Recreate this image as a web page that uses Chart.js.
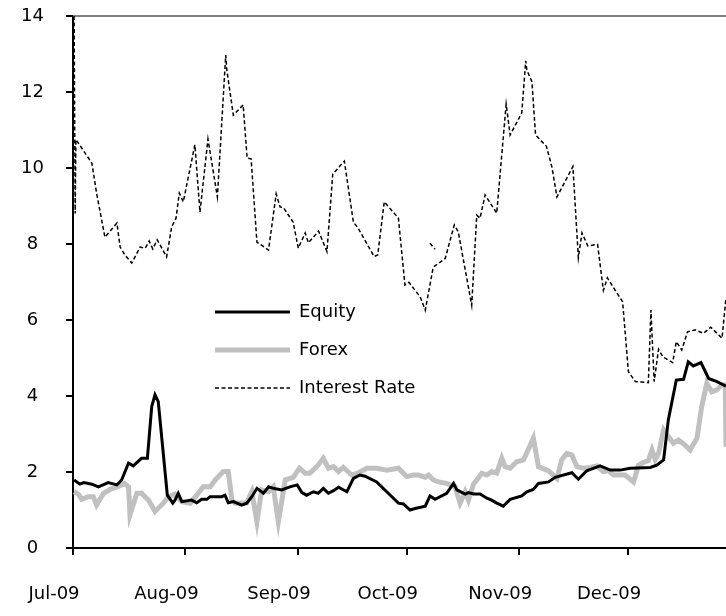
<!DOCTYPE html>
<html>
<head>
<meta charset="utf-8">
<script src="https://cdn.jsdelivr.net/npm/chart.js@4.4.0/dist/chart.umd.min.js"></script>
<style>
  html, body { margin: 0; padding: 0; background: #fff; }
</style>
</head>
<body>
<canvas id="canvas" width="726" height="616"></canvas>
<script>
// x values are days since 1 Jul 2009
var monthTicks = [0, 31, 62, 92, 123, 153];
var monthLabels = ['Jul-09', 'Aug-09', 'Sep-09', 'Oct-09', 'Nov-09', 'Dec-09'];
var seriesNames = ['Equity', 'Forex', 'Interest Rate'];

var equity = [[0.3,1.79],[1.9,1.68],[3.0,1.72],[5.2,1.68],[7.0,1.61],[9.7,1.72],[12.1,1.66],[13.4,1.79],[15.3,2.23],[16.6,2.16],
  [18.9,2.36],[20.5,2.36],[21.7,3.72],[22.6,4.03],[23.5,3.85],[26.0,1.39],[27.5,1.18],[28.1,1.26],[29.0,1.44],[30.0,1.22],
  [32.7,1.26],[34.1,1.19],[35.5,1.28],[36.9,1.28],[37.8,1.35],[41.0,1.35],[41.9,1.39],[42.8,1.19],[44.2,1.22],[46.5,1.13],
  [47.9,1.18],[49.3,1.35],[50.7,1.57],[52.5,1.44],[53.9,1.61],[55.2,1.57],[57.5,1.53],[59.8,1.61],[61.8,1.66],[63.1,1.46],
  [64.4,1.39],[66.3,1.48],[67.6,1.44],[69.0,1.57],[70.4,1.44],[71.8,1.51],[73.2,1.6],[75.5,1.48],[77.3,1.83],[79.1,1.92],
  [80.5,1.89],[83.7,1.74],[86.9,1.44],[89.7,1.18],[91.1,1.16],[92.9,1.0],[94.3,1.04],[97.1,1.1],[98.4,1.37],[99.8,1.28],
  [103.0,1.44],[104.9,1.7],[105.8,1.53],[108.1,1.42],[109.0,1.46],[110.4,1.42],[112.2,1.42],[114.1,1.31],[115.4,1.26],[116.8,1.18],
  [118.6,1.1],[120.5,1.28],[123.7,1.37],[125.1,1.48],[126.9,1.54],[128.3,1.7],[131.1,1.74],[132.9,1.86],[137.5,1.98],[139.3,1.81],
  [141.6,2.03],[145.3,2.16],[148.1,2.05],[150.8,2.05],[153.6,2.1],[159.1,2.12],[160.9,2.18],[162.8,2.32],[164.1,3.37],[166.3,4.42],
  [168.3,4.44],[169.6,4.9],[171.0,4.79],[173.1,4.88],[175.2,4.46],[177.5,4.38],[180.0,4.26]];

var forex = [[0.3,1.48],[1.5,1.42],[2.4,1.28],[4.2,1.35],[5.6,1.35],[6.5,1.13],[8.4,1.44],[10.2,1.54],[12.1,1.61],[14.3,1.7],
  [15.3,1.61],[15.7,0.87],[17.6,1.44],[18.9,1.44],[20.8,1.26],[22.6,0.96],[24.9,1.18],[26.3,1.35],[28.1,1.42],[30.0,1.22],
  [32.3,1.18],[34.1,1.39],[35.9,1.61],[37.8,1.61],[39.2,1.79],[41.4,2.01],[42.8,2.01],[43.8,1.26],[44.7,1.18],[47.9,1.19],
  [49.3,1.48],[50.7,0.69],[52.0,1.53],[53.9,1.48],[55.2,1.61],[56.6,0.69],[58.5,1.79],[60.7,1.86],[62.4,2.1],[64.0,1.97],
  [65.3,1.97],[67.2,2.14],[69.0,2.36],[70.4,2.1],[71.8,2.14],[73.2,2.01],[74.5,2.12],[76.8,1.92],[78.7,1.98],[81.0,2.1],
  [83.7,2.1],[86.5,2.05],[89.7,2.1],[92.0,1.88],[93.8,1.92],[95.2,1.92],[97.1,1.86],[98.0,1.92],[99.3,1.79],[100.7,1.74],
  [103.0,1.7],[105.3,1.61],[106.7,1.18],[108.1,1.48],[109.0,1.26],[110.4,1.68],[112.7,1.97],[114.1,1.92],[115.4,2.01],[116.8,1.97],
  [118.2,2.36],[119.1,2.14],[120.5,2.1],[122.3,2.27],[124.2,2.32],[126.9,2.89],[128.3,2.14],[131.1,2.03],[133.4,1.83],[134.7,2.32],
  [136.1,2.49],[137.5,2.45],[138.9,2.14],[140.7,2.1],[142.5,2.12],[144.4,2.16],[146.2,2.01],[147.6,2.03],[149.0,1.92],[152.2,1.92],
  [154.5,1.74],[155.9,2.18],[157.2,2.25],[158.6,2.3],[159.6,2.58],[160.5,2.33],[161.4,2.49],[162.8,3.11],[164.1,2.93],[165.5,2.76],
  [166.9,2.84],[168.7,2.71],[170.1,2.58],[172.0,2.89],[173.3,3.72],[174.7,4.33],[176.1,4.11],[177.5,4.16],[178.9,4.29],[179.8,4.29],
  [180.0,2.66]];

var interestRate = [[0.3,14.0],[0.6,8.8],[0.8,10.75],[5.2,10.13],[6.5,9.34],[8.8,8.18],[12.1,8.55],[13.0,7.92],[14.3,7.71],[16.2,7.5],
  [18.5,7.92],[19.9,7.89],[21.0,8.08],[22.0,7.87],[23.2,8.11],[24.5,7.89],[25.8,7.66],[27.2,8.45],[28.4,8.68],[29.3,9.34],
  [30.4,9.11],[33.6,10.61],[35.0,8.84],[37.2,10.76],[39.8,9.24],[42.1,12.97],[42.4,12.58],[44.2,11.39],[46.9,11.66],[48.0,10.26],
  [49.1,10.24],[50.7,8.05],[53.9,7.84],[56.0,9.32],[57.1,8.97],[58.0,8.96],[60.7,8.57],[62.1,7.89],[64.0,8.29],[64.9,8.03],
  [67.7,8.34],[70.0,7.8],[71.6,9.84],[74.8,10.18],[77.3,8.57],[78.4,8.45],[83.0,7.67],[84.0,7.71],[85.8,9.11],[89.7,8.68],
  [91.5,6.92],[92.6,6.99],[95.7,6.61],[97.1,6.26],[99.3,7.39],[102.6,7.62],[105.1,8.5],[106.2,8.32],[109.9,6.39],[111.3,8.76],
  [112.2,8.68],[113.6,9.29],[116.8,8.81],[119.4,11.68],[120.5,10.87],[123.7,11.45],[124.8,12.82],[125.1,12.58],[126.5,12.27],[127.5,10.87],
  [130.5,10.57],[132.0,10.03],[133.4,9.24],[137.8,10.04],[139.3,7.64],[140.3,8.29],[141.9,7.95],[144.6,7.99],[146.2,6.78],[147.3,7.11],
  [149.4,6.79],[151.5,6.48],[153.1,4.64],[155.0,4.38],[158.6,4.35],[159.3,6.26],[160.2,4.38],[161.4,5.23],[162.6,5.03],[165.3,4.88],
  [166.3,5.43],[167.8,5.21],[169.4,5.69],[171.5,5.74],[173.8,5.65],[175.8,5.81],[178.9,5.52],[180.0,6.58]];

// short detached piece of the interest rate line in early October
var interestRateStray = [[98.4,8.02],[99.8,7.86]];

function toPoints(list) {
    return list.map(function (p) { return { x: p[0], y: p[1] }; });
}

var FONT = "'Comic Sans MS', 'DejaVu Sans', sans-serif";
Chart.defaults.font.family = FONT;
Chart.defaults.color = '#000';

var dashed = [4, 2.5];

// put the legend inside the plot, left of centre
var legendMover = {
    id: 'legendMover',
    afterLayout: function (chart) {
        var lg = chart.legend;
        lg.left = 195;
        lg.top = 283;
        lg.right = lg.left + lg.width;
        lg.bottom = lg.top + lg.height;
    }
};

var topBorder = {
    id: 'topBorder',
    beforeDatasetsDraw: function (chart) {
        var ctx = chart.ctx, a = chart.chartArea;
        ctx.save();
        ctx.strokeStyle = '#808080';
        ctx.lineWidth = 2;
        ctx.beginPath();
        ctx.moveTo(a.left, a.top);
        ctx.lineTo(a.right, a.top);
        ctx.stroke();
        ctx.restore();
    }
};

var config = {
    type: 'line',
    data: {
        datasets: [{
            label: seriesNames[0],
            data: toPoints(equity),
            borderColor: '#000',
            backgroundColor: '#000',
            borderWidth: 3
        }, {
            label: seriesNames[1],
            data: toPoints(forex),
            borderColor: '#c0c0c0',
            backgroundColor: '#c0c0c0',
            borderWidth: 5
        }, {
            label: seriesNames[2],
            data: toPoints(interestRate),
            borderColor: '#000',
            backgroundColor: '#000',
            borderWidth: 1.5,
            borderDash: dashed
        }, {
            label: '',
            data: toPoints(interestRateStray),
            borderColor: '#000',
            borderWidth: 1.5,
            borderDash: dashed
        }]
    },
    options: {
        responsive: false,
        animation: false,
        devicePixelRatio: 1,
        layout: { padding: { top: 16, left: 0, right: 0, bottom: 0 } },
        elements: {
            point: { radius: 0, hoverRadius: 0 },
            line: { tension: 0, fill: false, borderJoinStyle: 'miter' }
        },
        plugins: {
            tooltip: { enabled: false },
            legend: {
                position: 'chartArea',
                fullSize: false,
                align: 'start',
                labels: {
                    usePointStyle: true,
                    pointStyle: 'line',
                    pointStyleWidth: 75,
                    padding: 20,
                    color: '#000',
                    font: { size: 18 },
                    generateLabels: function (chart) {
                        var items = Chart.defaults.plugins.legend.labels.generateLabels(chart);
                        items.forEach(function (it) {
                            var ds = chart.data.datasets[it.datasetIndex];
                            it.lineDash = ds.borderDash || [];
                            it.lineWidth = ds.borderWidth;
                            it.strokeStyle = ds.borderColor;
                        });
                        return items;
                    },
                    filter: function (item) { return item.text !== ''; }
                }
            }
        },
        scales: {
            x: {
                type: 'linear',
                min: 0,
                max: 180,
                afterBuildTicks: function (scale) {
                    scale.ticks = monthTicks.map(function (v) { return { value: v }; });
                },
                afterFit: function (scale) { scale.height = 68; },
                ticks: {
                    autoSkip: false,
                    maxRotation: 0,
                    labelOffset: -19,
                    padding: 29,
                    font: { size: 18 },
                    callback: function (value) {
                        var i = monthTicks.indexOf(value);
                        return i >= 0 ? monthLabels[i] : '';
                    }
                },
                grid: { drawOnChartArea: false, color: '#000', lineWidth: 2, tickLength: 7 },
                border: { color: '#000', width: 2 }
            },
            y: {
                min: 0,
                max: 14,
                afterFit: function (scale) {
                    scale.width = 73;
                    // tick padding only moves labels sideways here
                    scale.paddingTop = 11;
                    scale.paddingBottom = 11;
                },
                ticks: {
                    stepSize: 2,
                    padding: 22,
                    crossAlign: 'center',
                    font: { size: 18 }
                },
                grid: { drawOnChartArea: false, color: '#000', lineWidth: 2, tickLength: 7 },
                border: { color: '#000', width: 2 }
            }
        }
    },
    plugins: [legendMover, topBorder]
};

window.onload = function () {
    window.myLine = new Chart(document.getElementById('canvas'), config);
};
</script>
</body>
</html>
